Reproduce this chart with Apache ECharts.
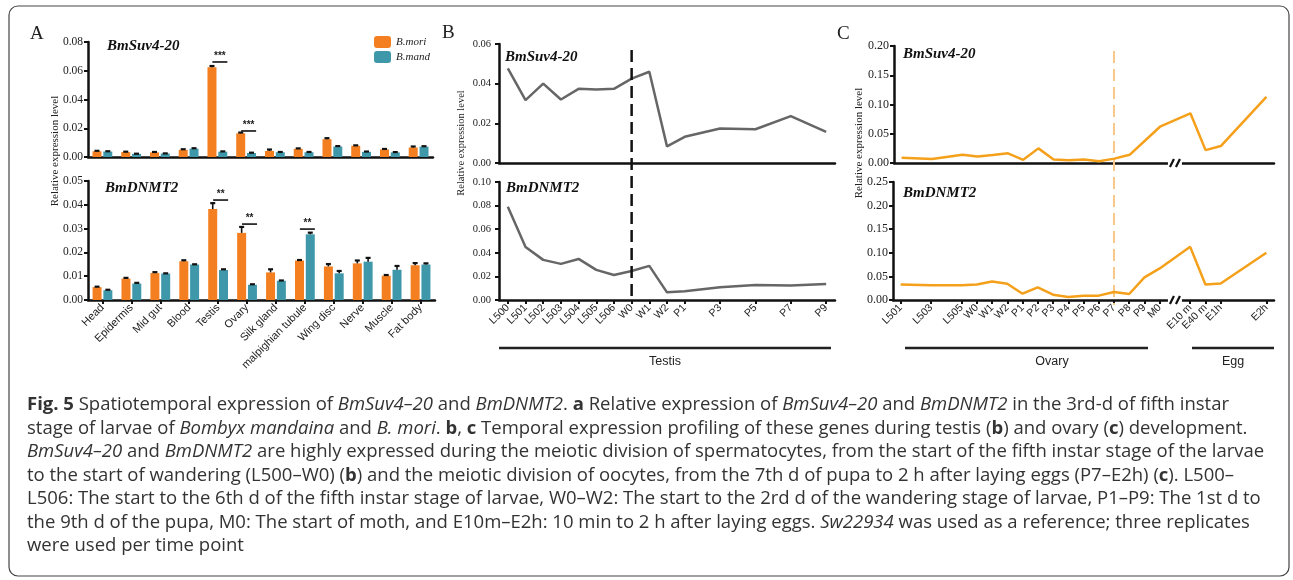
<!DOCTYPE html>
<html><head><meta charset="utf-8">
<script src="https://cdn.jsdelivr.net/npm/echarts@6/dist/echarts.min.js"></script>
<style>html,body{margin:0;padding:0;background:#fff}#c{width:1293px;height:580px}</style>
</head><body><div id="c"></div>
<script>
// ---------- Panel A data ----------
const tissues = ['Head','Epidermis','Mid gut','Blood','Testis','Ovary','Silk gland','malpighian tubule','Wing disc','Nerve','Muscle','Fat body'];
const suvMori    = [0.0040,0.0034,0.0032,0.0050,0.0625,0.0165,0.0042,0.0057,0.0124,0.0078,0.0053,0.0066];
const suvMand    = [0.0038,0.0022,0.0024,0.0058,0.0037,0.0028,0.0033,0.0033,0.0073,0.0036,0.0032,0.0072];
const suvMoriErr = [0.0003,0.0003,0.0003,0.0004,0.0008,0.0005,0.0010,0.0003,0.0007,0.0003,0.0003,0.0007];
const suvMandErr = [0.0002,0.0001,0.0001,0.0003,0.0002,0.0002,0.0002,0.0002,0.0003,0.0002,0.0002,0.0003];
const dnmtMori    = [0.0054,0.0090,0.0113,0.0163,0.0382,0.0282,0.0116,0.0166,0.0141,0.0154,0.0102,0.0146];
const dnmtMand    = [0.0041,0.0069,0.0111,0.0149,0.0126,0.0064,0.0081,0.0276,0.0112,0.0161,0.0127,0.0149];
const dnmtMoriErr = [0.0002,0.0003,0.0004,0.0004,0.0025,0.0025,0.0013,0.0002,0.0010,0.0012,0.0003,0.0009];
const dnmtMandErr = [0.0002,0.0003,0.0001,0.0001,0.0003,0.0002,0.0001,0.0007,0.0010,0.0016,0.0016,0.0005];
const suvSigIdx = [4, 5],      suvSigY = [0.0661, 0.0181],         suvSigText = ['***','***'];
const dnmtSigIdx = [4, 5, 7],  dnmtSigY = [0.0420, 0.0319, 0.0298], dnmtSigText = ['**','**','**'];
const speciesNames = ['B.mori','B.mand'];
const yTicksA1 = [0, 0.08, 0.02], yTicksA2 = [0, 0.05, 0.01];

// ---------- Panel B data (testis) ----------
const testisStages = ['L500','L501','L502','L503','L504','L505','L506','W0','W1','W2','P1','P2','P3','P4','P5','P6','P7','P8','P9'];
const testisSuv  = [0.0477,0.0317,0.0400,0.0320,0.0374,0.0371,0.0374,0.0425,0.0460,0.0084,0.0132,null,0.0174,null,0.0170,null,0.0236,null,0.0157];
const testisDnmt = [0.0790,0.0450,0.0340,0.0306,0.0348,0.0255,0.0212,0.0246,0.0289,0.0065,0.0074,null,0.0108,null,0.0127,null,0.0122,null,0.0136];
const yTicksB1 = [0, 0.06, 0.02], yTicksB2 = [0, 0.10, 0.02];

// ---------- Panel C data (ovary / egg) ----------
const ovaryStages = ['L501','L502','L503','L504','L505','W0','W1','W2','P1','P2','P3','P4','P5','P6','P7','P8','P9','M0','','E10 m','E40 m','E1h','','','E2h'];
const hiddenOvaryLabels = ['L502','L504',''];
const ovarySuv  = [0.0090,null,0.0070,null,0.0140,0.0110,0.0135,0.0165,0.0055,0.0250,0.0060,0.0046,0.0060,0.0030,0.0075,0.0140,null,0.0620,null,0.0850,0.0220,0.0290,null,null,0.1130];
const ovaryDnmt = [0.0330,null,0.0310,null,0.0310,0.0330,0.0390,0.0345,0.0134,0.0268,0.0113,0.0063,0.0092,0.0092,0.0169,0.0127,0.0479,0.0669,null,0.1126,0.0330,0.0350,null,null,0.1000];
const yTicksC1 = [0, 0.20, 0.05], yTicksC2 = [0, 0.25, 0.05];

const captionLines = [
  '{b|Fig. 5} Spatiotemporal expression of {i|BmSuv4–20} and {i|BmDNMT2}. {b|a} Relative expression of {i|BmSuv4–20} and {i|BmDNMT2} in the 3rd-d of fifth instar',
  'stage of larvae of {i|Bombyx mandaina} and {i|B. mori}. {b|b}, {b|c} Temporal expression profiling of these genes during testis ({b|b}) and ovary ({b|c}) development.',
  '{i|BmSuv4–20} and {i|BmDNMT2} are highly expressed during the meiotic division of spermatocytes, from the start of the fifth instar stage of the larvae',
  'to the start of wandering (L500–W0) ({b|b}) and the meiotic division of oocytes, from the 7th d of pupa to 2 h after laying eggs (P7–E2h) ({b|c}). L500–',
  'L506: The start to the 6th d of the fifth instar stage of larvae, W0–W2: The start to the 2rd d of the wandering stage of larvae, P1–P9: The 1st d to',
  'the 9th d of the pupa, M0: The start of moth, and E10m–E2h: 10 min to 2 h after laying eggs. {i|Sw22934} was used as a reference; three replicates',
  'were used per time point'
];

// ---------- styling helpers ----------
const SERIF = 'Liberation Serif', SANS = 'Liberation Sans';
const ORANGE = '#F47F20', TEAL = '#3F98A9', GRAYLINE = '#666666', CLINE = '#F5A01A';
const axLine = {show:true, onZero:false, lineStyle:{color:'#111', width:2.5}};
function yAx(grid, t, size, margin){
  return {type:'value', gridIndex:grid, min:t[0], max:t[1], interval:t[2],
    axisLine:axLine, axisTick:{show:true, length:4, lineStyle:{color:'#111', width:2}},
    axisLabel:{fontFamily:SERIF, fontSize:size, color:'#222', margin:margin, formatter:v=>v.toFixed(2)},
    splitLine:{show:false}};
}
function xAx(grid, data, showLabels, labelSize, opts){
  return Object.assign({type:'category', gridIndex:grid, data:data, boundaryGap:true,
    axisLine:axLine,
    axisTick:{show:showLabels, alignWithLabel:true, length:4, lineStyle:{color:'#111', width:2}},
    axisLabel:{show:showLabels, rotate:45, fontFamily:SANS, fontSize:labelSize, color:'#222', margin:6, interval:0},
    splitLine:{show:false}}, opts||{});
}
const BARW = 9, OFF = 5.4;
function errSeries(xi, yi, vals, errs, offset){
  return {type:'custom', xAxisIndex:xi, yAxisIndex:yi, z:5, clip:false, silent:true,
    data: vals.map((v,i)=>[i, v, errs[i]]), encode:{x:0, y:1},
    renderItem:(p, api)=>{
      const x=api.value(0), v=api.value(1), e=api.value(2);
      const a=api.coord([x,v]), b=api.coord([x,v+e]); const cx=a[0]+offset;
      return {type:'group', children:[
        {type:'line', shape:{x1:cx,y1:a[1],x2:cx,y2:b[1]}, style:{stroke:'#111', lineWidth:1.6}},
        {type:'line', shape:{x1:cx-2.5,y1:b[1],x2:cx+2.5,y2:b[1]}, style:{stroke:'#111', lineWidth:2.2}}
      ]};
    }};
}
function sigSeries(xi, yi, idx, ys, texts){
  return {type:'custom', xAxisIndex:xi, yAxisIndex:yi, z:6, clip:false, silent:true,
    data: idx.map((k,i)=>[k, ys[i]]), encode:{x:0, y:1},
    renderItem:(p, api)=>{
      const c=api.coord([api.value(0), api.value(1)]);
      return {type:'group', children:[
        {type:'line', shape:{x1:c[0]-5,y1:c[1],x2:c[0]+10,y2:c[1]}, style:{stroke:'#111', lineWidth:1.6}},
        {type:'text', style:{x:c[0]+2.5, y:c[1]-1, text:texts[p.dataIndex], align:'center', verticalAlign:'bottom',
          fontFamily:SANS, fontSize:10, fontWeight:'bold', fill:'#222'}}
      ]};
    }};
}
function barSeries(name, xi, yi, vals, color){
  return {type:'bar', name:name, xAxisIndex:xi, yAxisIndex:yi, data:vals, barWidth:BARW, barGap:'20%',
    itemStyle:{color:color}, silent:true};
}
function lineSeries(xi, yi, vals, color){
  return {type:'line', xAxisIndex:xi, yAxisIndex:yi, data:vals, connectNulls:true, symbol:'none',
    lineStyle:{color:color, width:2.5}, silent:true, z:3};
}
const ovaryShow = (i, v) => hiddenOvaryLabels.indexOf(v) < 0;
const testisShow = (i) => i <= 10 || i % 2 === 0;

const option = {
  animation:false, backgroundColor:'#ffffff',
  legend:{orient:'vertical', left:369, top:31, itemWidth:17, itemHeight:12, itemGap:3, icon:'roundRect',
    data:speciesNames, selectedMode:false,
    textStyle:{fontFamily:SERIF, fontStyle:'italic', fontSize:11, color:'#222'}},
  grid:[
    {left:88, top:42, width:345, height:115},
    {left:88, top:181, width:347, height:119},
    {left:499, top:44, width:336, height:119},
    {left:499, top:182, width:336, height:118},
    {left:894, top:46, width:380, height:117},
    {left:893, top:182, width:381, height:118}
  ],
  xAxis:[
    xAx(0, tissues, false, 11),
    xAx(1, tissues, true, 11),
    xAx(2, testisStages, false, 10),
    xAx(3, testisStages, true, 10.5, {axisLabel:{show:true, rotate:45, fontFamily:SANS, fontSize:10.5, color:'#222', margin:6, interval:testisShow}}),
    xAx(4, ovaryStages, false, 10),
    xAx(5, ovaryStages, true, 10.5, {
      axisTick:{show:true, alignWithLabel:true, length:4, interval:ovaryShow, lineStyle:{color:'#111', width:2}},
      axisLabel:{show:true, rotate:45, fontFamily:SANS, fontSize:10.5, color:'#222', margin:6, interval:ovaryShow}})
  ],
  yAxis:[
    yAx(0, yTicksA1, 11.5, 5), yAx(1, yTicksA2, 11.5, 5),
    yAx(2, yTicksB1, 10.5, 8), yAx(3, yTicksB2, 10.5, 8),
    yAx(4, yTicksC1, 12, 5),   yAx(5, yTicksC2, 12, 5)
  ],
  series:[
    barSeries(speciesNames[0], 0, 0, suvMori, ORANGE),
    barSeries(speciesNames[1], 0, 0, suvMand, TEAL),
    errSeries(0, 0, suvMori, suvMoriErr, -OFF),
    errSeries(0, 0, suvMand, suvMandErr, OFF),
    sigSeries(0, 0, suvSigIdx, suvSigY, suvSigText),
    barSeries(speciesNames[0], 1, 1, dnmtMori, ORANGE),
    barSeries(speciesNames[1], 1, 1, dnmtMand, TEAL),
    errSeries(1, 1, dnmtMori, dnmtMoriErr, -OFF),
    errSeries(1, 1, dnmtMand, dnmtMandErr, OFF),
    sigSeries(1, 1, dnmtSigIdx, dnmtSigY, dnmtSigText),
    lineSeries(2, 2, testisSuv, GRAYLINE),
    lineSeries(3, 3, testisDnmt, GRAYLINE),
    lineSeries(4, 4, ovarySuv, CLINE),
    lineSeries(5, 5, ovaryDnmt, CLINE)
  ]
};
const chart = echarts.init(document.getElementById('c'), null, {renderer:'canvas'});
chart.setOption(option);

// ---------- annotations ----------
const g = [];
const txt = (x, y, text, font, extra) => g.push(Object.assign({type:'text', x:x, y:y, z:20,
  style:Object.assign({text:text, fill:'#222', verticalAlign:'middle'}, font)}, extra||{}));
const lineG = (x1,y1,x2,y2,stroke,w,dash,z) => g.push({type:'line', z:z||20, shape:{x1,y1,x2,y2},
  style:{stroke:stroke, lineWidth:w, lineDash:dash||null}});

// frame
g.push({type:'rect', z:1, shape:{x:9, y:6, width:1280, height:570, r:9}, style:{fill:null, stroke:'#444', lineWidth:1.2}});
// panel letters
txt(30, 34, 'A', {fontFamily:SERIF, fontSize:19});
txt(442, 33, 'B', {fontFamily:SERIF, fontSize:19});
txt(837, 34, 'C', {fontFamily:SERIF, fontSize:19});
// gene names
const geneFont = {fontFamily:SERIF, fontSize:15, fontWeight:'bold', fontStyle:'italic', fill:'#111'};
txt(107, 46, 'BmSuv4-20', geneFont); txt(105, 188, 'BmDNMT2', geneFont);
txt(505, 57, 'BmSuv4-20', geneFont); txt(506, 188, 'BmDNMT2', geneFont);
txt(903, 54, 'BmSuv4-20', geneFont); txt(903, 193, 'BmDNMT2', geneFont);
// y-axis names
const yName = {fontFamily:SERIF, fontSize:11, align:'center', fill:'#222'};
txt(55, 151, 'Relative expression level', yName, {rotation:Math.PI/2});
txt(461, 143, 'Relative expression level', Object.assign({}, yName, {fontSize:10.5}), {rotation:Math.PI/2});
txt(859, 143, 'Relative expression level', yName, {rotation:Math.PI/2});

// dashed stage markers through the axes' scales
const xW0 = chart.convertToPixel({xAxisIndex:3}, 'W0');
lineG(xW0, 50, xW0, 297, '#111', 2.5, [12, 6]);
const xP7 = chart.convertToPixel({xAxisIndex:5}, 'P7');
g.push({type:'line', z:2, shape:{x1:xP7, y1:51, x2:xP7, y2:305}, style:{stroke:'#F7C88A', lineWidth:2, lineDash:[12, 6]}});

// axis breaks in C
const xBreak = chart.convertToPixel({xAxisIndex:5}, 18);
[163, 300].forEach((yy)=>{
  g.push({type:'rect', z:21, shape:{x:xBreak-7, y:yy-3, width:14, height:6}, style:{fill:'#fff'}});
  lineG(xBreak-5, yy+4, xBreak-1, yy-4, '#111', 2.2, null, 22);
  lineG(xBreak+1, yy+4, xBreak+5, yy-4, '#111', 2.2, null, 22);
});

// group brackets
const grpFont = {fontFamily:SANS, fontSize:12.5, align:'center', fill:'#222'};
lineG(499, 348, 831, 348, '#222', 2.5); txt(665, 362, 'Testis', grpFont);
lineG(905, 348, 1148, 348, '#222', 2.5); txt(1052, 362, 'Ovary', grpFont);
lineG(1192, 348, 1274, 348, '#222', 2.5); txt(1233, 362, 'Egg', grpFont);

// caption
const CF = 'Open Sans', CS = 18.5, CC = '#333';
const rich = {
  b:{fontFamily:CF, fontSize:CS, fontWeight:'bold', fill:CC},
  i:{fontFamily:CF, fontSize:CS, fontStyle:'italic', fill:CC}
};
const capY = [405, 428.5, 452, 475.5, 499, 522.5, 546];
captionLines.forEach((ln, k)=>{
  g.push({type:'text', x:27, y:capY[k], z:20, style:{text:ln, rich:rich, fontFamily:CF, fontSize:CS, fill:CC, verticalAlign:'middle'}});
});

chart.setOption({graphic:g});
</script></body></html>
